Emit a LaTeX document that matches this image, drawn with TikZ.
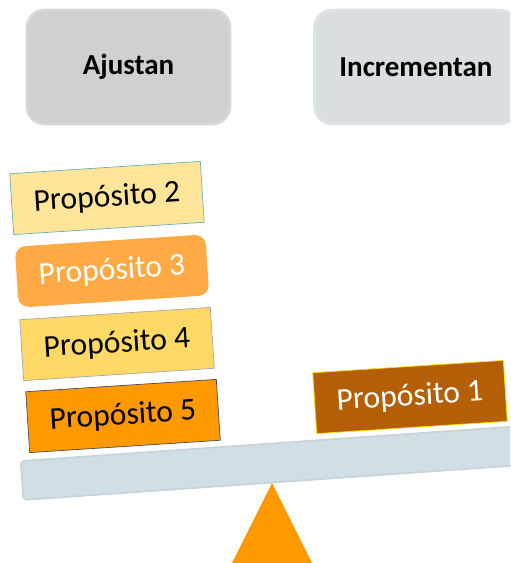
\documentclass[tikz,border=0pt]{standalone}
\usepackage{fontspec}
\setmainfont{Carlito}
\definecolor{grisA}{HTML}{D0D0D0}
\definecolor{grisI}{HTML}{D9DEE1}
\definecolor{barra}{HTML}{CFDFE3}
\definecolor{amarillo}{HTML}{FFE599}
\definecolor{naranjaC}{HTML}{FFAA44}
\definecolor{dorado}{HTML}{FFD966}
\definecolor{naranja}{HTML}{FF9900}
\definecolor{cafe}{HTML}{B45F06}
\tikzset{
  titulo/.style={rounded corners=10pt, line width=1.5pt, minimum width=4.06cm, minimum height=2.28cm,
    font=\fontsize{16.5}{18}\selectfont\bfseries},
  proposito/.style={minimum width=3.82cm, minimum height=1.22cm, rotate=3.7, line width=0.4pt,
    font=\fontsize{18}{20}\selectfont},
  barra/.style={fill=barra, draw=barra!90!gray, line width=1pt, rounded corners=2pt, rotate=4,
    minimum width=10.2cm, minimum height=0.78cm}
}
\begin{document}
\begin{tikzpicture}[x=0.02cm, y=-0.02cm]
\clip (0,0) rectangle (510,563);

\node[titulo, fill=grisA, draw=grisA!85!white] (ajustan) at (128.5,67) {Ajustan};
\node[titulo, fill=grisI, draw=grisI!85!white] (incrementan) at (416,67) {Incrementan};

\fill[naranja] (272,483) -- (222,583) -- (322,583) -- cycle;
\node[barra] (palanca) at (276.4,462.7) {};

\node[proposito, fill=amarillo, draw=teal!60] (p2) at (107,198) {Propósito 2};
\node[proposito, fill=naranjaC, rounded corners=6pt, text=white] (p3) at (112,271) {Propósito 3};
\node[proposito, fill=dorado, draw=gray!70] (p4) at (117,344) {Propósito 4};
\node[proposito, fill=naranja, draw=black!70] (p5) at (123,416) {Propósito 5};
\node[proposito, fill=cafe, draw=yellow!80!orange, text=white] (p1) at (410,397) {Propósito 1};

\end{tikzpicture}
\end{document}
